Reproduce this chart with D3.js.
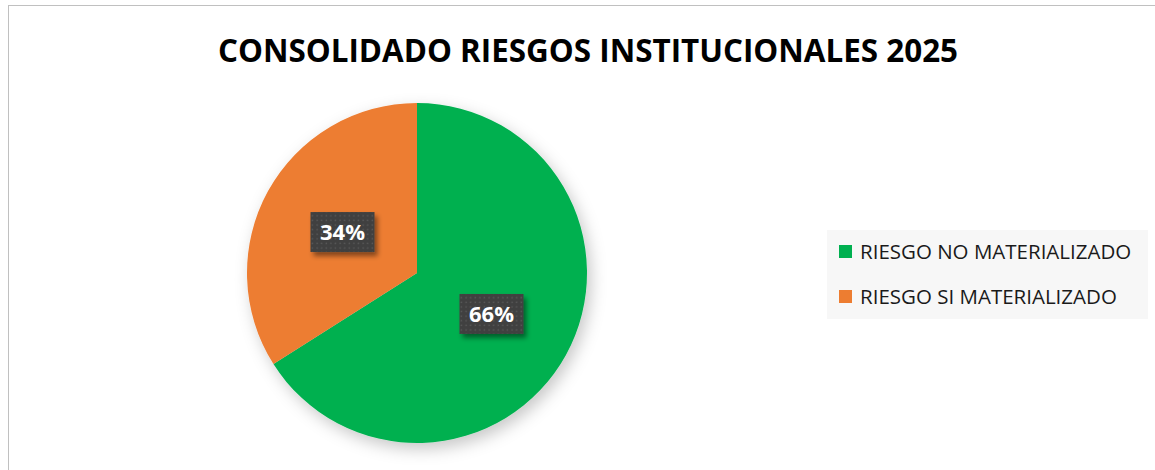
<!DOCTYPE html>
<html>
<head>
<meta charset="utf-8">
<script src="https://cdn.jsdelivr.net/npm/d3@7"></script>
<style>
  body { margin: 0; background: #fff; }
  svg { display: block; }
  .title { font-family: "Open Sans", sans-serif; font-weight: bold; fill: #000; }
  .legend text { font-family: "Open Sans", sans-serif; fill: #1a1a1a; }
  .lbl { font-family: "Open Sans", sans-serif; font-weight: bold; fill: #fff; }
</style>
</head>
<body>
<svg></svg>
<script>
var width = 1155, height = 470;

// data
var categories = ["RIESGO NO MATERIALIZADO", "RIESGO SI MATERIALIZADO"];
var values = [66, 34];
var colors = ["#00b050", "#ed7d31"];

var svg = d3.select("svg").attr("width", width).attr("height", height);
var defs = svg.append("defs");

// soft shadow under the pie
var f = defs.append("filter").attr("id", "pieShadow")
  .attr("x", "-20%").attr("y", "-20%").attr("width", "150%").attr("height", "150%");
f.append("feDropShadow").attr("dx", 4).attr("dy", 6).attr("stdDeviation", 8)
  .attr("flood-color", "#000").attr("flood-opacity", 0.22);

// label box shadow
var f2 = defs.append("filter").attr("id", "boxShadow")
  .attr("x", "-30%").attr("y", "-30%").attr("width", "170%").attr("height", "170%");
f2.append("feDropShadow").attr("dx", 3).attr("dy", 4).attr("stdDeviation", 2.5)
  .attr("flood-color", "#000").attr("flood-opacity", 0.45);

// dotted dark fill for the data labels
var pat = defs.append("pattern").attr("id", "dots")
  .attr("width", 4.6).attr("height", 4.6).attr("patternUnits", "userSpaceOnUse");
pat.append("rect").attr("width", 4.6).attr("height", 4.6).attr("fill", "#404040");
pat.append("rect").attr("x", 1.5).attr("y", 1.5).attr("width", 1.4).attr("height", 1.4).attr("fill", "#5a5a5a");

// chart border
svg.append("rect").attr("x", 8.5).attr("y", 5.5).attr("width", 1160).attr("height", 480)
  .attr("fill", "none").attr("stroke", "#c0c0c0");

svg.append("text").attr("class", "title")
  .attr("x", 588).attr("y", 62).attr("text-anchor", "middle")
  .style("font-size", "31.4px")
  .text("CONSOLIDADO RIESGOS INSTITUCIONALES 2025");

// pie
var cx = 417, cy = 273, r = 170;
var pie = d3.pie().sort(null).value(d => d)(values);
var arc = d3.arc().innerRadius(0).outerRadius(r);

var g = svg.append("g").attr("transform", "translate(" + cx + "," + cy + ")");
g.append("g").attr("filter", "url(#pieShadow)")
  .selectAll("path").data(pie).enter().append("path")
  .attr("d", arc)
  .attr("fill", (d, i) => colors[i]);

// data labels
var lbls = g.selectAll(".lblg").data(pie).enter().append("g")
  .attr("class", "lblg")
  .attr("transform", d => "translate(" + arc.centroid(d) + ")");
lbls.append("rect")
  .attr("x", -32).attr("y", -20).attr("width", 64).attr("height", 40)
  .attr("fill", "url(#dots)").attr("filter", "url(#boxShadow)");
lbls.append("text").attr("class", "lbl")
  .attr("text-anchor", "middle").attr("y", 8)
  .style("font-size", "22px")
  .text(d => d.data + "%");

// legend
var leg = svg.append("g").attr("class", "legend");
leg.append("rect").attr("x", 827).attr("y", 230).attr("width", 321).attr("height", 89)
  .attr("fill", "#f7f7f7");
var items = leg.selectAll(".item").data(categories).enter().append("g")
  .attr("transform", (d, i) => "translate(839," + (245 + i * 45) + ")");
items.append("rect").attr("width", 13).attr("height", 13).attr("fill", (d, i) => colors[i]);
items.append("text").attr("x", 21).attr("y", 14)
  .style("font-size", "20.5px")
  .text(d => d);
</script>
</body>
</html>
